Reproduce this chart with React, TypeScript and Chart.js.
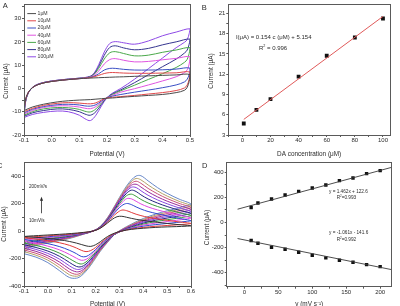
import React, { useEffect, useRef } from 'react';
import { Chart, registerables } from 'chart.js';

Chart.register(...registerables);

const FONT = '"Liberation Sans", Arial, Helvetica, sans-serif';
const TEXT = '#2b2b2b';
const AXIS = '#5a5a5a';

// ---------------- Panel A : CV at different DA concentrations ----------------
const potentialA = [
  -0.1, -0.095, -0.085, -0.07, -0.05, -0.02, 0.02, 0.06, 0.1, 0.13, 0.15, 0.17, 0.19, 0.21, 0.23, 0.26, 0.3, 0.35, 0.4, 0.45, 0.5,
  0.497, 0.49, 0.48, 0.45, 0.4, 0.35, 0.3, 0.25, 0.22, 0.2, 0.18, 0.16, 0.14, 0.12, 0.1, 0.06, 0.02, -0.03, -0.07, -0.1,
];
const concLabels = ['1μM', '10μM', '20μM', '40μM', '60μM', '80μM', '100μM'];
const concColors = ['#4a4a4a', '#e0484a', '#3a4fc4', '#e055e0', '#4aa84a', '#35358f', '#8e4ae6'];
const cvA1 = [-9.5, -5, -1.8, 0.3, 1.6, 2.6, 3.3, 3.8, 4.2, 4.4, 4.5, 4.6, 4.7, 4.8, 4.9, 5.0, 5.2, 5.4, 5.6, 5.8, 5.9,
  3, 0.5, -0.8, -1.8, -2.6, -3.0, -3.4, -3.8, -4.1, -4.2, -4.4, -4.6, -4.8, -4.9, -5.0, -5.3, -5.8, -6.8, -8.0, -9.5];
const cvA10 = [-10, -5.2, -1.8, 0.3, 1.6, 2.6, 3.3, 3.8, 4.2, 4.5, 4.9, 5.6, 6.4, 6.8, 6.8, 6.6, 6.5, 6.5, 6.6, 6.7, 7.0,
  4, 1.5, 0.2, -0.9, -1.8, -2.4, -3.0, -3.5, -3.8, -4.1, -5.0, -6.2, -6.6, -6.5, -6.3, -6.1, -6.4, -7.3, -8.6, -10];
const cvA20 = [-10.5, -5.4, -1.9, 0.3, 1.6, 2.6, 3.3, 3.8, 4.2, 4.5, 5.1, 6.3, 7.9, 8.6, 8.6, 8.2, 7.9, 7.9, 8.0, 8.3, 8.7,
  6, 4, 2.8, 1.5, 0.3, -0.7, -1.6, -2.6, -3.3, -4.0, -5.4, -7.0, -7.6, -7.5, -7.1, -6.8, -7.0, -7.8, -9.0, -10.5];
const cvA40 = [-11, -5.6, -1.9, 0.3, 1.7, 2.7, 3.4, 3.9, 4.3, 4.6, 5.4, 7.5, 10.5, 12.4, 12.8, 12.1, 11.4, 11.6, 12.3, 12.9, 13.6,
  10.5, 8, 6.8, 5, 3.2, 1.5, -0.1, -1.6, -3.0, -4.0, -5.8, -7.8, -8.7, -8.5, -8.0, -7.5, -7.5, -8.2, -9.5, -11];
const cvA60 = [-11.5, -5.8, -2, 0.3, 1.7, 2.7, 3.4, 3.9, 4.3, 4.7, 5.7, 8.6, 12.6, 15.3, 15.8, 15.0, 14.0, 14.3, 15.5, 16.5, 17.5,
  15, 12.5, 11.2, 9, 6.3, 3.9, 1.4, -1.0, -2.6, -4.0, -6.2, -8.8, -10.1, -9.8, -9.0, -8.3, -8.2, -8.8, -10.0, -11.5];
const cvA80 = [-12, -6, -2, 0.4, 1.8, 2.8, 3.5, 4.0, 4.4, 4.8, 5.9, 9.4, 14.2, 17.6, 18.3, 17.4, 16.6, 17.2, 18.7, 20.0, 21.2,
  19, 16.5, 15.2, 12.6, 9.3, 5.9, 2.5, -0.6, -2.3, -4.0, -6.8, -10.0, -11.5, -11.0, -10.0, -9.0, -8.8, -9.5, -10.5, -12];
const cvA100 = [-12.5, -6.2, -2.1, 0.4, 1.8, 2.8, 3.5, 4.0, 4.4, 4.9, 6.1, 10.2, 15.6, 19.3, 20.1, 19.6, 19.0, 20.4, 22.6, 24.2, 25.6,
  23.5, 21, 19.8, 17.5, 13, 8.5, 4.0, 0.0, -2.0, -4.0, -7.5, -11.5, -13.8, -13.0, -11.5, -10.0, -9.7, -10.3, -11.2, -12.5];
const currentsA = [cvA1, cvA10, cvA20, cvA40, cvA60, cvA80, cvA100];
const ticksAx = [-0.1, -0.05, 0, 0.05, 0.1, 0.15, 0.2, 0.25, 0.3, 0.35, 0.4, 0.45, 0.5];
const ticksAy = [-20, -15, -10, -5, 0, 5, 10, 15, 20, 25, 30, 35];

// ---------------- Panel B : calibration ----------------
const concB = [1, 10, 20, 40, 60, 80, 100];
const peakB = [4.7, 6.72, 8.31, 11.64, 14.73, 17.43, 20.24];
const fitBx = [1, 100];
const fitBy = [5.31, 20.55];
const ticksBx = [-10, 0, 10, 20, 30, 40, 50, 60, 70, 80, 90, 100];
const ticksBy = [3, 4.5, 6, 7.5, 9, 10.5, 12, 13.5, 15, 16.5, 18, 19.5, 21];

// ---------------- Panel C : CV at different scan rates ----------------
const potentialC = [
  -0.1, -0.08, -0.04, 0.0, 0.05, 0.1, 0.15, 0.19, 0.22, 0.25, 0.27, 0.29, 0.31, 0.33, 0.35, 0.37, 0.39, 0.42, 0.46, 0.5, 0.55, 0.6,
  0.58, 0.54, 0.5, 0.45, 0.4, 0.35, 0.31, 0.28, 0.25, 0.22, 0.2, 0.18, 0.16, 0.14, 0.12, 0.09, 0.05, 0.0, -0.05, -0.1,
];
const rateColors = ['#333333', '#e03a3a', '#3048d0', '#e048e0', '#3c9a3c', '#262680', '#8848e0', '#9a2a9a', '#c8507a', '#b4a068', '#6888c8'];
const cv10 = [-40, -37, -33, -29, -24, -18, -10, 0, 20, 58, 85, 104, 107, 100, 92, 85, 79, 72, 63, 55, 46, 38,
  35, 32, 30, 26, 20, 12, 0, -15, -40, -78, -100, -112, -108, -98, -88, -76, -64, -54, -46, -40];
const cv20 = [-50, -45, -40, -35, -29, -22, -12, 0, 22, 65, 100, 132, 152, 148, 135, 122, 112, 100, 88, 78, 66, 55,
  50, 45, 40, 34, 26, 14, 0, -18, -48, -90, -120, -142, -150, -140, -124, -104, -86, -70, -58, -50];
const cv40 = [-62, -55, -48, -42, -34, -26, -14, 0, 24, 70, 112, 152, 185, 200, 192, 175, 160, 142, 125, 110, 92, 75,
  70, 62, 55, 46, 35, 18, 0, -20, -55, -100, -135, -165, -186, -185, -165, -140, -114, -92, -75, -62];
const cv60 = [-75, -64, -55, -48, -39, -29, -16, 0, 25, 74, 120, 165, 205, 235, 234, 216, 197, 175, 153, 135, 114, 95,
  88, 78, 69, 57, 43, 22, 0, -22, -60, -108, -145, -180, -207, -213, -198, -170, -138, -110, -90, -75];
const cv80 = [-88, -73, -62, -54, -44, -32, -17, 0, 27, 78, 126, 175, 220, 257, 268, 252, 230, 204, 178, 157, 133, 112,
  104, 92, 82, 68, 50, 26, 0, -24, -64, -115, -155, -193, -225, -240, -230, -200, -162, -128, -105, -88];
const cv100 = [-100, -82, -69, -60, -48, -35, -18, 0, 28, 82, 132, 184, 233, 274, 297, 287, 263, 233, 203, 178, 151, 128,
  119, 106, 94, 78, 57, 30, 2, -24, -68, -122, -164, -205, -240, -260, -258, -228, -185, -146, -120, -100];
const cv120 = [-112, -90, -76, -66, -53, -38, -19, 0, 29, 85, 137, 191, 243, 287, 318, 316, 293, 260, 226, 198, 168, 142,
  132, 118, 105, 87, 64, 34, 4, -24, -71, -127, -171, -215, -252, -275, -279, -253, -206, -163, -134, -112];
const cv140 = [-125, -99, -83, -72, -58, -41, -20, 0, 30, 88, 141, 197, 251, 298, 333, 340, 320, 285, 248, 217, 185, 156,
  145, 130, 116, 96, 71, 38, 6, -24, -74, -132, -178, -224, -263, -290, -297, -276, -227, -180, -148, -125];
const cv160 = [-138, -108, -90, -78, -62, -44, -21, 0, 31, 91, 145, 203, 259, 309, 347, 362, 347, 310, 270, 236, 201, 170,
  158, 142, 127, 105, 78, 42, 8, -24, -77, -137, -185, -232, -273, -303, -315, -298, -248, -196, -162, -138];
const cv180 = [-150, -116, -96, -83, -66, -47, -22, 0, 32, 94, 149, 208, 266, 318, 359, 382, 372, 335, 291, 254, 216, 183,
  171, 153, 137, 114, 84, 46, 10, -24, -80, -142, -192, -240, -283, -315, -329, -318, -268, -212, -176, -150];
const cv200 = [-165, -125, -103, -88, -70, -50, -23, 0, 33, 97, 153, 213, 273, 327, 371, 400, 402, 365, 315, 274, 232, 196,
  183, 164, 147, 122, 91, 50, 12, -24, -83, -147, -198, -248, -292, -326, -343, -338, -290, -230, -190, -165];
const currentsC = [cv10, cv20, cv40, cv60, cv80, cv100, cv120, cv140, cv160, cv180, cv200];
const ticksCx = [-0.1, -0.05, 0, 0.05, 0.1, 0.15, 0.2, 0.25, 0.3, 0.35, 0.4, 0.45, 0.5, 0.55, 0.6];
const ticksCy = [-400, -300, -200, -100, 0, 100, 200, 300, 400];

// ---------------- Panel D : peak current vs scan rate ----------------
const scanRates = [10, 20, 40, 60, 80, 100, 120, 140, 160, 180, 200];
const ipa = [120, 155, 187, 219, 248, 275, 299, 334, 355, 390, 414];
const ipc = [-144, -165, -197, -213, -237, -261, -282, -301, -317, -336, -352];
const fitDx = [-10, 217];
const fitDa = [106, 440];
const fitDc = [-128, -376];
const ticksDx = [-25, 0, 25, 50, 75, 100, 125, 150, 175, 200];
const ticksDy = [-500, -400, -300, -200, -100, 0, 100, 200, 300, 400];

// ---------------- helpers ----------------
const isMult = (v: number, every: number) => {
  const r = v / every;
  return Math.abs(r - Math.round(r)) < 1e-6;
};
const fmt = (v: number, dec: number) => {
  let x = Math.round(v * 1000) / 1000;
  if (Math.abs(x) < 1e-9) x = 0;
  return x.toFixed(dec);
};
const zip = (xs: number[], ys: number[]) => xs.map((x, i) => ({ x, y: ys[i] }));

type Ax = {
  min: number; max: number; ticks: number[]; every: number; dec: number;
  title: string; titlePad: number; size: number; showTitle?: boolean;
};

function axis(kind: 'x' | 'y', a: Ax) {
  const o: any = {
    type: 'linear',
    position: kind === 'x' ? 'bottom' : 'left',
    min: a.min,
    max: a.max,
    afterFit: (s: any) => {
      if (kind === 'x') s.height = a.size;
      else s.width = a.size;
    },
    afterBuildTicks: (s: any) => {
      s.ticks = a.ticks.map((v) => ({ value: v }));
    },
    ticks: {
      autoSkip: false,
      maxRotation: 0,
      minRotation: 0,
      padding: kind === 'x' ? 0 : 1,
      color: TEXT,
      font: { size: 6, family: FONT },
      callback: (v: number) => (isMult(v, a.every) ? fmt(v, a.dec) : ''),
    },
    grid: { display: true, drawOnChartArea: false, drawTicks: true, tickLength: 2, tickColor: AXIS, tickWidth: 1 },
    border: { display: false },
    title: {
      display: a.showTitle !== false,
      text: a.title,
      color: TEXT,
      font: { size: 6.4, family: FONT },
      padding: kind === 'x' ? { top: 0, bottom: a.titlePad } : { top: a.titlePad, bottom: 0 },
    },
  };
  return o;
}

const al = (v: number) => Math.round(v - 0.5) + 0.5;

const boxPlugin = {
  id: 'box',
  afterDraw(chart: any) {
    const { ctx, chartArea } = chart;
    const l = al(chartArea.left), r = al(chartArea.right), t = al(chartArea.top), b = al(chartArea.bottom);
    ctx.save();
    ctx.strokeStyle = AXIS;
    ctx.lineWidth = 1;
    ctx.strokeRect(l, t, r - l, b - t);
    ctx.restore();
  },
};

function drawR2(ctx: CanvasRenderingContext2D, x: number, y: number, rest: string, size: number, align: 'left' | 'center') {
  ctx.font = `${size}px ${FONT}`;
  const wR = ctx.measureText('R').width;
  const wRest = ctx.measureText(rest).width;
  ctx.font = `${size * 0.62}px ${FONT}`;
  const w2 = ctx.measureText('2').width;
  const total = wR + w2 + wRest;
  const x0 = align === 'center' ? x - total / 2 : x;
  ctx.textAlign = 'left';
  ctx.textBaseline = 'middle';
  ctx.font = `${size}px ${FONT}`;
  ctx.fillText('R', x0, y);
  ctx.font = `${size * 0.62}px ${FONT}`;
  ctx.fillText('2', x0 + wR, y - size * 0.35);
  ctx.font = `${size}px ${FONT}`;
  ctx.fillText(rest, x0 + wR + w2, y);
}

function letterPlugin(letter: string, x: number, y: number) {
  return {
    id: 'letter' + letter,
    afterDraw(chart: any) {
      const ctx = chart.ctx;
      ctx.save();
      ctx.fillStyle = TEXT;
      ctx.font = `7.5px ${FONT}`;
      ctx.textAlign = 'left';
      ctx.textBaseline = 'alphabetic';
      ctx.fillText(letter, x, y);
      ctx.restore();
    },
  };
}

// y-axis title of panel A sits below the axis centre in the original figure
function yTitlePlugin(text: string, cx: number, cy: number) {
  return {
    id: 'ytitle',
    afterDraw(chart: any) {
      const ctx = chart.ctx;
      ctx.save();
      ctx.translate(cx, cy);
      ctx.rotate(-Math.PI / 2);
      ctx.fillStyle = TEXT;
      ctx.font = `6.4px ${FONT}`;
      ctx.textAlign = 'center';
      ctx.textBaseline = 'middle';
      ctx.fillText(text, 0, 0);
      ctx.restore();
    },
  };
}

const legendAPlugin = {
  id: 'legendA',
  afterDraw(chart: any) {
    const { ctx, chartArea } = chart;
    ctx.save();
    ctx.font = `5.2px ${FONT}`;
    ctx.textAlign = 'left';
    ctx.textBaseline = 'middle';
    concLabels.forEach((lab, i) => {
      const y = chartArea.top + 9 + i * 7.2;
      ctx.strokeStyle = concColors[i];
      ctx.lineWidth = 1;
      ctx.beginPath();
      ctx.moveTo(chartArea.left + 3.3, y);
      ctx.lineTo(chartArea.left + 12, y);
      ctx.stroke();
      ctx.fillStyle = '#3a3a3a';
      ctx.fillText(lab, chartArea.left + 13.5, y);
    });
    ctx.restore();
  },
};

const eqBPlugin = {
  id: 'eqB',
  afterDraw(chart: any) {
    const { ctx, scales } = chart;
    ctx.save();
    ctx.fillStyle = TEXT;
    ctx.font = `6px ${FONT}`;
    ctx.textAlign = 'center';
    ctx.textBaseline = 'middle';
    ctx.fillText('I(μA) = 0.154 c (μM) + 5.154', scales.x.getPixelForValue(22.3), scales.y.getPixelForValue(17.5));
    drawR2(ctx, scales.x.getPixelForValue(21.8), scales.y.getPixelForValue(15.8), ' = 0.996', 6, 'center');
    ctx.restore();
  },
};

const annCPlugin = {
  id: 'annC',
  afterDraw(chart: any) {
    const { ctx, scales } = chart;
    ctx.save();
    ctx.fillStyle = TEXT;
    ctx.strokeStyle = TEXT;
    ctx.font = `4.6px ${FONT}`;
    ctx.textAlign = 'left';
    ctx.textBaseline = 'middle';
    const xl = scales.x.getPixelForValue(-0.079);
    ctx.fillText('200mV/s', xl, scales.y.getPixelForValue(322));
    ctx.fillText('10mV/s', xl, scales.y.getPixelForValue(73));
    const ax = Math.round(scales.x.getPixelForValue(-0.03)) + 0.5;
    const yTail = scales.y.getPixelForValue(129);
    const yHead = scales.y.getPixelForValue(250);
    ctx.lineWidth = 0.8;
    ctx.beginPath();
    ctx.moveTo(ax, yTail);
    ctx.lineTo(ax, yHead + 3);
    ctx.stroke();
    ctx.beginPath();
    ctx.moveTo(ax, yHead);
    ctx.lineTo(ax - 1.6, yHead + 4);
    ctx.lineTo(ax + 1.6, yHead + 4);
    ctx.closePath();
    ctx.fill();
    ctx.restore();
  },
};

const eqDPlugin = {
  id: 'eqD',
  afterDraw(chart: any) {
    const { ctx, scales } = chart;
    ctx.save();
    ctx.fillStyle = TEXT;
    ctx.font = `4.7px ${FONT}`;
    ctx.textAlign = 'left';
    ctx.textBaseline = 'middle';
    const x1 = scales.x.getPixelForValue(124.7);
    const x2 = scales.x.getPixelForValue(136);
    ctx.fillText('y = 1.462x + 122.6', x1, scales.y.getPixelForValue(246));
    drawR2(ctx, x2, scales.y.getPixelForValue(195), '=0.993', 4.7, 'left');
    ctx.fillText('y = -1.061x - 141.6', x1, scales.y.getPixelForValue(-85));
    drawR2(ctx, x2, scales.y.getPixelForValue(-135), '=0.992', 4.7, 'left');
    ctx.restore();
  },
};

function baseOptions(padTop: number, padRight: number, x: Ax, y: Ax) {
  return {
    responsive: false,
    maintainAspectRatio: false,
    animation: false,
    events: [],
    layout: { padding: { left: 0, top: padTop, right: padRight, bottom: 0 } },
    plugins: { legend: { display: false }, tooltip: { enabled: false }, title: { display: false } },
    scales: { x: axis('x', x), y: axis('y', y) },
  };
}

const cvLine = (xs: number[], ys: number[], color: string) => ({
  data: zip(xs, ys),
  showLine: true,
  borderColor: color,
  backgroundColor: color,
  borderWidth: 1,
  pointRadius: 0,
  tension: 0.35,
  fill: false,
});

function configA(): any {
  return {
    type: 'scatter',
    data: { datasets: currentsA.map((c, i) => cvLine(potentialA, c, concColors[i])) },
    options: baseOptions(1, 10,
      { min: -0.1, max: 0.5, ticks: ticksAx, every: 0.1, dec: 1, title: 'Potential (V)', titlePad: 2.2, size: 25 },
      { min: -20, max: 36, ticks: ticksAy, every: 10, dec: 0, title: 'Current (μA)', titlePad: 2.1, size: 24, showTitle: false }),
    plugins: [boxPlugin, legendAPlugin, letterPlugin('A', 2.7, 8.4), yTitlePlugin('Current (μA)', 6, 81)],
  };
}

function configB(): any {
  return {
    type: 'scatter',
    data: {
      datasets: [
        { data: zip(fitBx, fitBy), showLine: true, borderColor: '#e05a5a', borderWidth: 1, pointRadius: 0, fill: false },
        { data: zip(concB, peakB), showLine: false, pointStyle: 'rect', pointRadius: 2.7, pointBorderWidth: 0, backgroundColor: '#111', borderColor: '#111' },
      ],
    },
    options: baseOptions(1.7, 10,
      { min: -10, max: 105, ticks: ticksBx, every: 20, dec: 0, title: 'DA concentration (μM)', titlePad: 2.2, size: 25 },
      { min: 3, max: 22.3, ticks: ticksBy, every: 3, dec: 0, title: 'Current (μA)', titlePad: 7.9, size: 28.3, showTitle: false }),
    plugins: [boxPlugin, eqBPlugin, letterPlugin('B', 1.7, 10), yTitlePlugin('Current (μA)', 11.7, 71)],
  };
}

function configC(): any {
  return {
    type: 'scatter',
    data: { datasets: currentsC.map((c, i) => cvLine(potentialC, c, rateColors[i])) },
    options: baseOptions(12.25, 9,
      { min: -0.1, max: 0.6, ticks: ticksCx, every: 0.1, dec: 1, title: 'Potential (V)', titlePad: 4.2, size: 26 },
      { min: -400, max: 500, ticks: ticksCy, every: 200, dec: 0, title: 'Current (μA)', titlePad: 4.2, size: 28 }),
    plugins: [boxPlugin, annCPlugin, letterPlugin('C', 1, 18)],
  };
}

function configD(): any {
  return {
    type: 'scatter',
    data: {
      datasets: [
        { data: zip(fitDx, fitDa), showLine: true, borderColor: '#3a3a3a', borderWidth: 0.9, pointRadius: 0, fill: false },
        { data: zip(fitDx, fitDc), showLine: true, borderColor: '#3a3a3a', borderWidth: 0.9, pointRadius: 0, fill: false },
        { data: zip(scanRates, ipa), showLine: false, pointStyle: 'rect', pointRadius: 2.4, pointBorderWidth: 0, backgroundColor: '#111', borderColor: '#111' },
        { data: zip(scanRates, ipc), showLine: false, pointStyle: 'rect', pointRadius: 2.4, pointBorderWidth: 0, backgroundColor: '#111', borderColor: '#111' },
      ],
    },
    options: baseOptions(12.3, 8.3,
      { min: -26, max: 217, ticks: ticksDx, every: 50, dec: 0, title: 'v (mV s⁻¹)', titlePad: 4.2, size: 25.3 },
      { min: -512, max: 480, ticks: ticksDy, every: 200, dec: 0, title: 'Current (μA)', titlePad: 3.2, size: 26.7, showTitle: false }),
    plugins: [boxPlugin, eqDPlugin, letterPlugin('D', 2, 17.5), yTitlePlugin('Current (μA)', 7, 77.5)],
  };
}

function Panel({ make, left, top, width, height }: { make: () => any; left: number; top: number; width: number; height: number }) {
  const ref = useRef<HTMLCanvasElement | null>(null);
  useEffect(() => {
    if (!ref.current) return;
    const chart = new Chart(ref.current, make());
    return () => chart.destroy();
  }, []);
  return (
    <canvas
      ref={ref}
      width={width}
      height={height}
      style={{ position: 'absolute', left, top, width, height }}
    />
  );
}

export default function App() {
  return (
    <div style={{ position: 'fixed', left: 0, top: 0, width: 400, height: 306, overflow: 'hidden', background: '#ffffff' }}>
      <Panel make={configA} left={0} top={0} width={200} height={160} />
      <Panel make={configB} left={200} top={0} width={200} height={160} />
      <Panel make={configC} left={-4} top={150} width={204} height={162} />
      <Panel make={configD} left={200} top={150} width={200} height={162} />
    </div>
  );
}
